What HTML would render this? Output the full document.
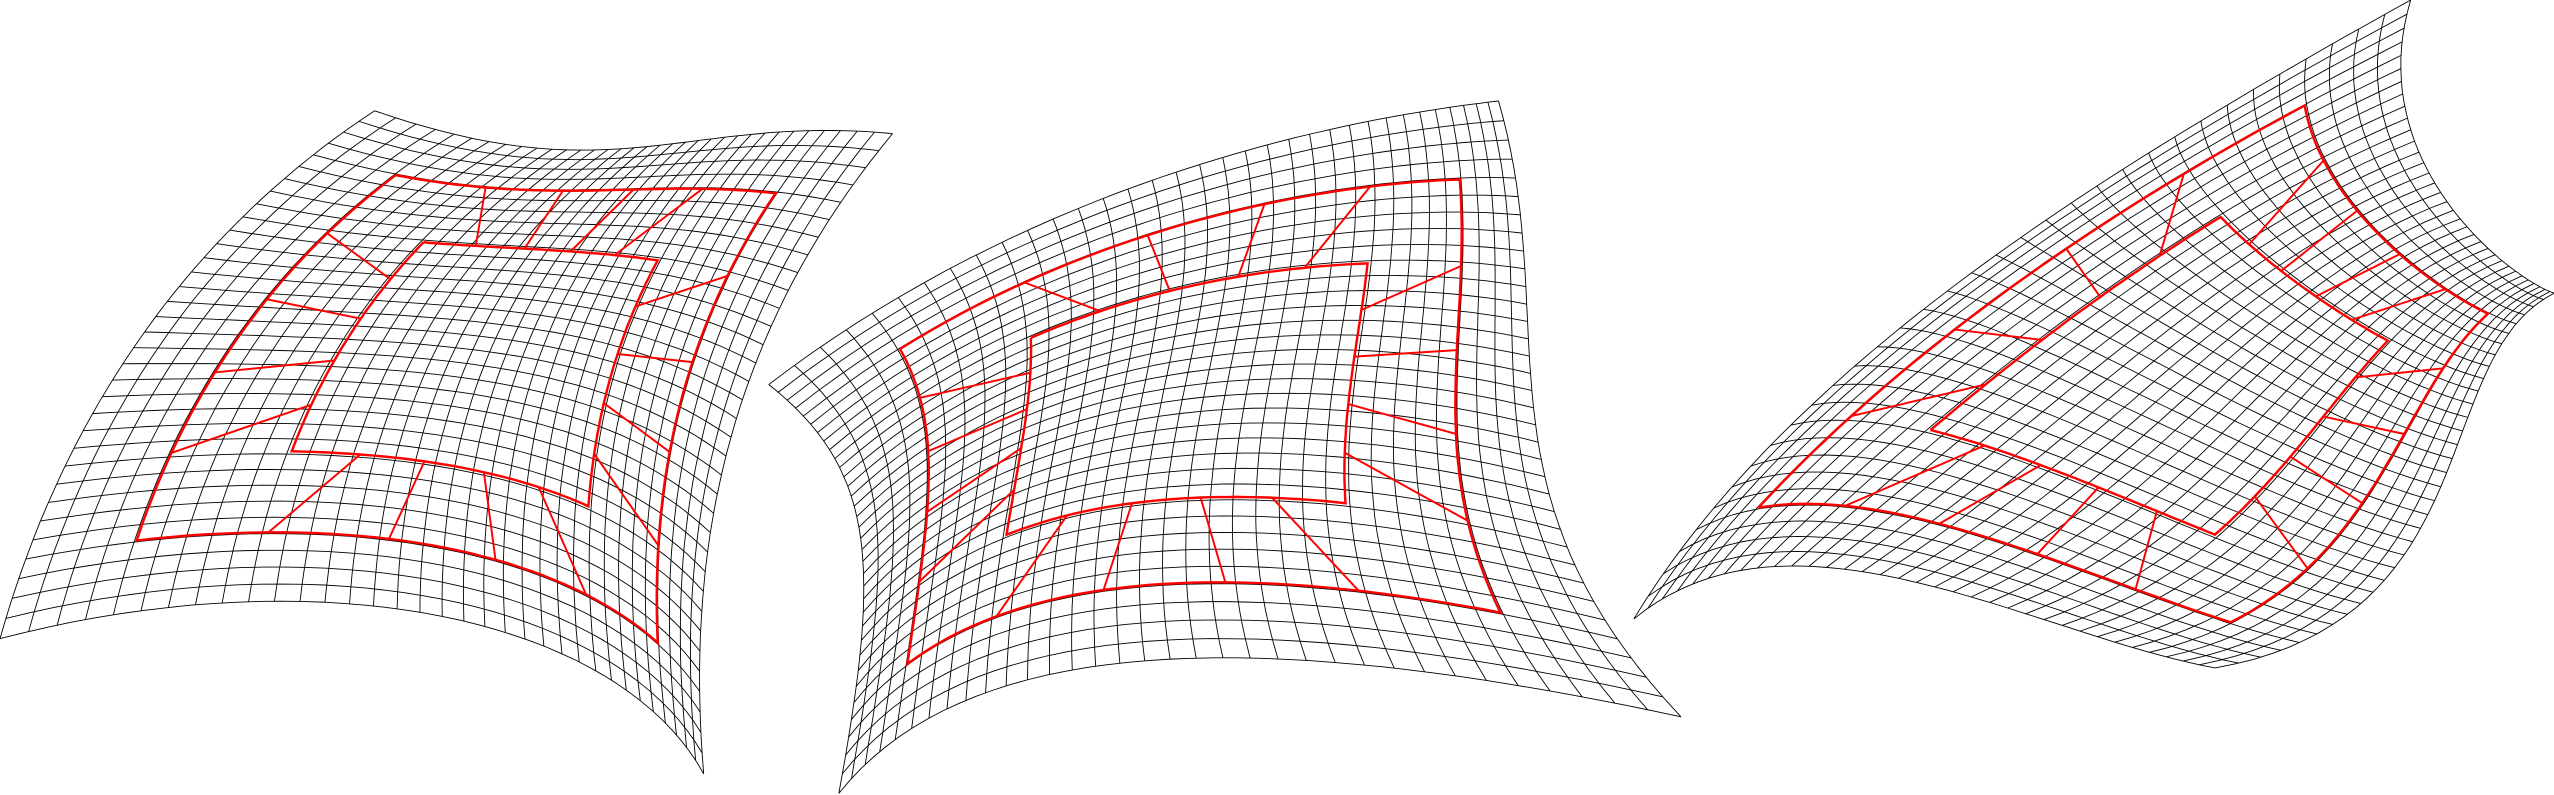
<!DOCTYPE html>
<html><head><meta charset="utf-8"><style>
html,body{margin:0;padding:0;background:#fff;width:2554px;height:795px;overflow:hidden}
svg{display:block}
</style></head><body>
<svg id="fig" width="2554" height="795" viewBox="0 0 1568 488" preserveAspectRatio="none" xmlns="http://www.w3.org/2000/svg"></svg>
<script>
// Boundary curves (cubic Bezier control points) for each deformed mesh
const mesh1Top=[[230,68],[380,120],[420,70],[548,82]];
const mesh1Bottom=[[0,392],[200,340],[380,380],[432,475]];
const mesh1Left=[[230,68],[120,140],[40,250],[0,392]];
const mesh1Right=[[548,82],[450,200],[420,330],[432,475]];
const mesh2Top=[[472,236],[650,100],[850,70],[920,62]];
const mesh2Bottom=[[515,487],[600,380],[800,390],[1032,440]];
const mesh2Left=[[472,236],[540,290],[540,350],[515,487]];
const mesh2Right=[[920,62],[960,200],[900,300],[1032,440]];
const mesh3Top=[[1003,380],[1100,220],[1300,100],[1480,0]];
const mesh3Bottom=[[1360,410],[1530,380],[1490,220],[1568,180]];
const mesh3Left=[[1003,380],[1100,300],[1250,390],[1360,410]];
const mesh3Right=[[1480,0],[1450,100],[1540,170],[1568,180]];
const gridCount=[34,34,34];
const outerRing=[0.12,0.88];
const innerRing=[0.27,0.73];
const spokes=[0.2,0.4,0.6,0.8];

const NS='http://www.w3.org/2000/svg';
const svg=document.getElementById('fig');
function bez(c,t){const m=1-t;return [m*m*m*c[0][0]+3*m*m*t*c[1][0]+3*m*t*t*c[2][0]+t*t*t*c[3][0],
 m*m*m*c[0][1]+3*m*m*t*c[1][1]+3*m*t*t*c[2][1]+t*t*t*c[3][1]];}
function makePatch(T,B,L,R){
 return function(u,v){const t=bez(T,u),b=bez(B,u),l=bez(L,v),r=bez(R,v);
  const p00=T[0],p10=T[3],p01=B[0],p11=B[3];const out=[];
  for(let k=0;k<2;k++){out.push((1-v)*t[k]+v*b[k]+(1-u)*l[k]+u*r[k]
   -((1-u)*(1-v)*p00[k]+u*(1-v)*p10[k]+(1-u)*v*p01[k]+u*v*p11[k]));}
  return out;};
}
function poly(pts,stroke,w,name,parent){
 const p=document.createElementNS(NS,'polyline');
 p.setAttribute('points',pts.map(q=>q[0].toFixed(1)+','+q[1].toFixed(1)).join(' '));
 p.setAttribute('fill','none');p.setAttribute('stroke',stroke);p.setAttribute('stroke-width',w);
 
 
 parent.appendChild(p);
}
const meshes=[[mesh1Top,mesh1Bottom,mesh1Left,mesh1Right],[mesh2Top,mesh2Bottom,mesh2Left,mesh2Right],[mesh3Top,mesh3Bottom,mesh3Left,mesh3Right]];
meshes.forEach((m,i)=>{
 const g=document.createElementNS(NS,'g');
 
 
 svg.appendChild(g);
 const P=makePatch(m[0],m[1],m[2],m[3]);const n=gridCount[i],S=40;
 for(let a=0;a<=n;a++){const s=a/n;const r1=[],r2=[];
  for(let b=0;b<=S;b++){r1.push(P(s,b/S));r2.push(P(b/S,s));}
  poly(r1,'#000',0.55,'grid-line',g);poly(r2,'#000',0.55,'grid-line',g);}
 // red ring structure
 const rg=document.createElementNS(NS,'g');
 
 
 svg.appendChild(rg);
 function rect(a,b){const pts=[];const add=(u,v)=>pts.push(P(u,v));
  for(let k=0;k<=S;k++)add(a+(b-a)*k/S,a);
  for(let k=0;k<=S;k++)add(b,a+(b-a)*k/S);
  for(let k=0;k<=S;k++)add(b-(b-a)*k/S,b);
  for(let k=0;k<=S;k++)add(a,b-(b-a)*k/S);
  return pts;}
 poly(rect(outerRing[0],outerRing[1]),'#f00',1.5,'outer-ring',rg);
 poly(rect(innerRing[0],innerRing[1]),'#f00',1.5,'inner-ring',rg);
 const o0=outerRing[0],o1=outerRing[1],i0=innerRing[0],i1=innerRing[1];
 spokes.forEach(f=>{
  const uo=o0+(o1-o0)*f,ui=i0+(i1-i0)*f;
  poly([P(uo,o0),P(ui,i0)],'#f00',1.2,'spoke',rg);
  poly([P(uo,o1),P(ui,i1)],'#f00',1.2,'spoke',rg);
  poly([P(o0,uo),P(i0,ui)],'#f00',1.2,'spoke',rg);
  poly([P(o1,uo),P(i1,ui)],'#f00',1.2,'spoke',rg);
 });
});
</script>
</body></html>
